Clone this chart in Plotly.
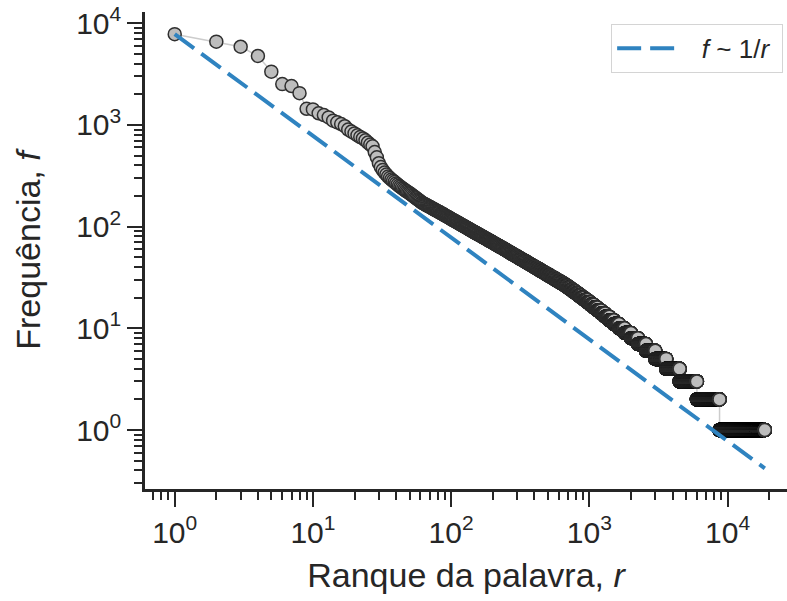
import numpy as np
import plotly.graph_objects as go

# Frequencies of the 100 most frequent words (rank 1..100)
top_freqs = [7800, 6580, 5870, 4760, 3340, 2520, 2410, 2050, 1440, 1420,
             1300, 1250, 1185, 1100, 1060, 1020, 970, 900, 860, 825,
             790, 760, 735, 705, 670, 640, 615, 540, 480, 420,
             385, 360, 340, 325, 310, 300, 290, 282, 274, 266,
             259, 252, 246, 240, 235, 230, 225, 221, 217, 213,
             209, 205, 201, 197, 193, 190, 186, 183, 180, 177,
             173, 171, 169, 167, 165, 163, 161, 160, 158, 156,
             155, 153, 151, 150, 148, 147, 145, 144, 143, 141,
             140, 139, 138, 136, 135, 134, 133, 132, 130, 129,
             128, 127, 126, 125, 124, 123, 122, 121, 120, 119]

# Tail: for each frequency level, the last rank holding that frequency
tail_freq = [118, 117, 116, 115, 114, 113, 112, 111, 110, 109, 108, 107, 106, 105, 104,
             103, 102, 101, 100, 99, 98, 97, 96, 95, 94, 93, 92, 91, 90, 89, 88, 87, 86,
             85, 84, 83, 82, 81, 80, 79, 78, 77, 76, 75, 74, 73, 72, 71, 70, 69, 68, 67,
             66, 65, 64, 63, 62, 61, 60, 59, 58, 57, 56, 55, 54, 53, 52, 51, 50, 49, 48,
             47, 46, 45, 44, 43, 42, 41, 40, 39, 38, 37, 36, 35, 34, 33, 32, 31, 30, 29,
             28, 27, 26, 25, 24, 23, 22, 21, 20, 19, 18, 17, 16, 15, 14, 13, 12, 11, 10,
             9, 8, 7, 6, 5, 4, 3, 2, 1]
tail_last_rank = [101, 102, 103, 105, 106, 107, 108, 110, 111, 112, 114, 115, 116, 118, 119,
                  121, 122, 124, 126, 127, 129, 131, 132, 134, 136, 138, 140, 142, 144, 146,
                  148, 151, 153, 155, 158, 160, 163, 166, 168, 171, 174, 177, 180, 183, 186,
                  190, 193, 197, 200, 204, 208, 212, 216, 221, 225, 230, 235, 240, 245, 250,
                  255, 261, 267, 273, 280, 286, 293, 301, 308, 316, 325, 334, 343, 353, 363,
                  374, 385, 397, 409, 423, 437, 452, 468, 485, 503, 523, 544, 566, 590, 616,
                  644, 672, 700, 730, 762, 796, 833, 873, 917, 965, 1018, 1077, 1142, 1215,
                  1298, 1393, 1505, 1640, 1800, 2000, 2250, 2570, 3000, 3600, 4500, 6000,
                  8750, 18600]

# Assemble rank-frequency series
freqs = list(top_freqs)
prev = len(top_freqs)
for f, last in zip(tail_freq, tail_last_rank):
    freqs.extend([f] * (last - prev))
    prev = last
freqs = np.array(freqs, dtype=float)
ranks = np.arange(1, len(freqs) + 1)

# Reference line f ~ 1/r anchored at the first word
line_r = np.array([1, ranks[-1]], dtype=float)
line_f = freqs[0] / line_r

FONT = "Liberation Sans, Arial, Helvetica, sans-serif"
AX = "#262626"
NB = "\u00a0"

fig = go.Figure()
fig.add_trace(go.Scatter(
    x=ranks, y=freqs, mode="lines+markers",
    line=dict(color="#cccccc", width=1.5),
    marker=dict(size=13, color="#bdbdbd", line=dict(color="#2f2f2f", width=1.5)),
    showlegend=False, hoverinfo="skip"))
fig.add_trace(go.Scatter(
    x=line_r, y=line_f, mode="lines",
    line=dict(color="#2f83c0", width=4, dash="24px,9px"),
    name=NB * 3 + "<i>f</i> ~ 1/<i>r</i>" + NB, hoverinfo="skip"))

def minor_vals(lo, hi):
    vals = []
    for k in range(lo, hi):
        for m in range(2, 10):
            vals.append(m * 10 ** k)
    return vals

xt = [1, 10, 100, 1000, 10000]
yt = [1, 10, 100, 1000, 10000]
fig.update_xaxes(
    type="log", range=[-0.215, 4.43],
    tickvals=xt, ticktext=[f"10<sup>{i}</sup>" for i in range(5)],
    ticks="outside", ticklen=15, tickwidth=2, tickcolor=AX,
    minor=dict(tickvals=minor_vals(-1, 5), ticks="outside", ticklen=8, tickwidth=1.5, tickcolor=AX),
    showline=True, linewidth=2.5, linecolor=AX, showgrid=False, zeroline=False,
    tickfont=dict(size=30, color=AX, family=FONT),
    title=dict(text="Ranque da palavra, <i>r</i>", font=dict(size=34, color=AX, family=FONT), standoff=16))
fig.update_yaxes(
    type="log", range=[-0.58, 4.11],
    tickvals=yt, ticktext=[f"10<sup>{i}</sup>" for i in range(5)],
    ticks="outside", ticklen=15, tickwidth=2, tickcolor=AX,
    minor=dict(tickvals=minor_vals(-1, 5), ticks="outside", ticklen=8, tickwidth=1.5, tickcolor=AX),
    showline=True, linewidth=2.5, linecolor=AX, showgrid=False, zeroline=False,
    tickfont=dict(size=30, color=AX, family=FONT),
    title=dict(text="Frequência, <i>f</i>", font=dict(size=34, color=AX, family=FONT), standoff=26))

fig.update_layout(
    width=787, height=601,
    margin=dict(l=145, r=0, t=12, b=112),
    plot_bgcolor="white", paper_bgcolor="white",
    font=dict(family=FONT, color=AX),
    legend=dict(x=0.994, y=0.975, xanchor="right", yanchor="top",
                bgcolor="white", bordercolor="#d4d4d4", borderwidth=1,
                itemwidth=58,
                font=dict(size=26, family=FONT, color=AX)),
)
fig.write_html("out.html")
